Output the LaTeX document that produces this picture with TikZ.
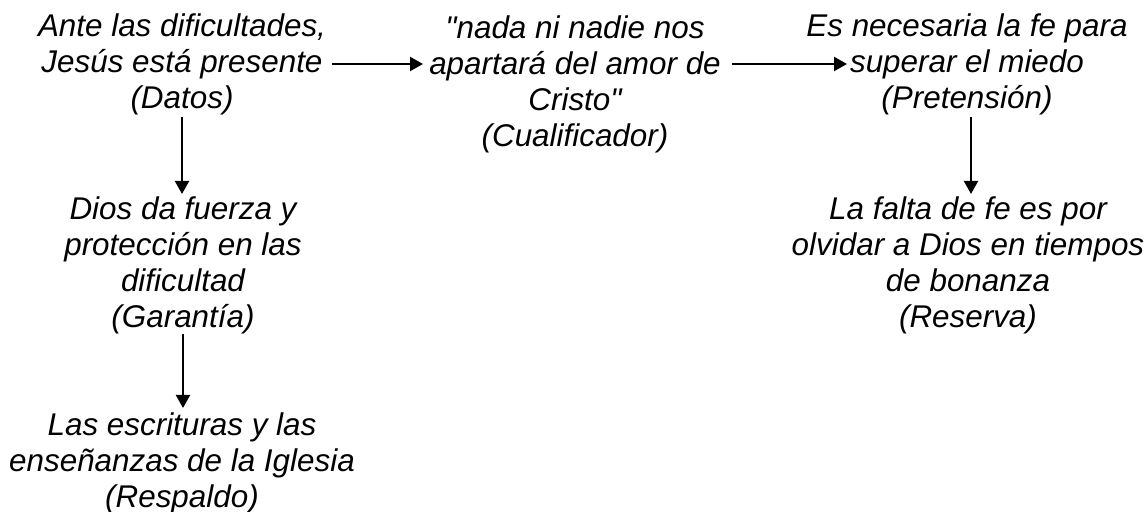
\documentclass[tikz,border=0pt]{standalone}
\usepackage{fontspec}
\setmainfont{Liberation Sans}[Ligatures=TeXOff]
\usetikzlibrary{arrows.meta}

\tikzset{
    txt/.style={align=center, inner sep=0pt, font=\fontsize{15.7}{18}\selectfont\itshape},
    arr/.style={-{Triangle[length=6.5pt,width=7pt]}, line width=1.1pt}
}

\begin{document}
\begin{tikzpicture}[x=0.5pt, y=-0.5pt]
    \useasboundingbox (0,0) rectangle (1147,512);
    \node[txt] at (182,64) (datos) {Ante las dificultades,\\Jesús está presente\\(Datos)};
    \node[txt] at (575,84) (cual) {"nada ni nadie nos\\apartará del amor de\\Cristo"\\(Cualificador)};
    \node[txt] at (967,64) (pret) {Es necesaria la fe para\\superar el miedo\\(Pretensión)};
    \node[txt] at (183,265) (gar) {Dios da fuerza y\\protección en las\\dificultad\\(Garantía)};
    \node[txt] at (182,463) (resp) {Las escrituras y las\\enseñanzas de la Iglesia\\(Respaldo)};
    \node[txt] at (968,265) (res) {La falta de fe es por\\olvidar a Dios en tiempos\\de bonanza\\(Reserva)};

    \coordinate (datosout) at (332,64);
    \coordinate (cualin) at (423,64);
    \coordinate (cualout) at (732,64);
    \coordinate (pretin) at (847,64);

    \draw[arr] (datosout) -- (cualin);
    \draw[arr] (cualout) -- (pretin);
    %\draw[arr] (datos) -- (cual);
    \draw[arr, shorten <=1pt, shorten >=1pt] (datos.south) -- (datos.south |- gar.north);
    \draw[arr, shorten <=0pt, shorten >=2pt] (gar.south) -- (gar.south |- resp.north);
    \draw[arr, shorten <=1pt, shorten >=1pt] ([xshift=2pt]pret.south) -- ([xshift=2pt]pret.south |- res.north);

\end{tikzpicture}
\end{document}
